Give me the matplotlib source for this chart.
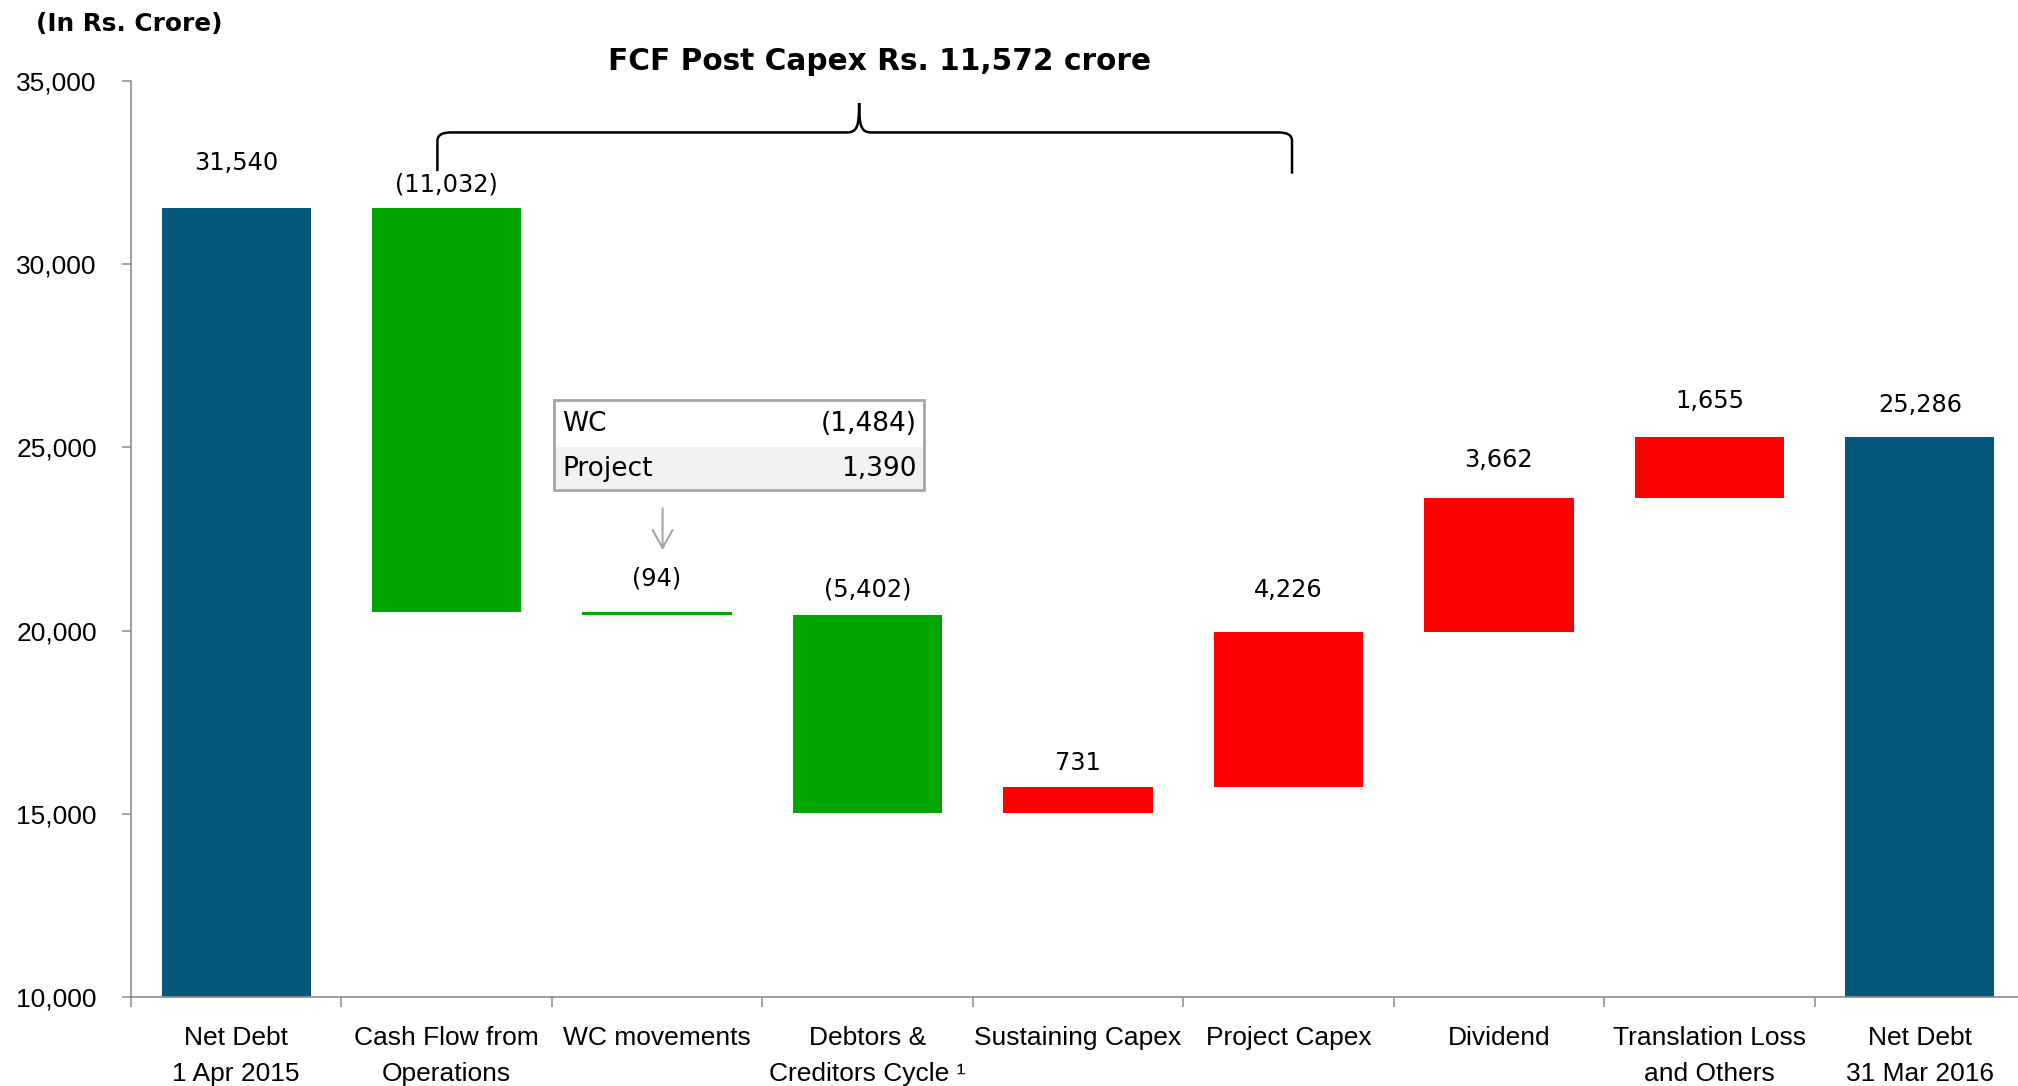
import numpy as np
import matplotlib
matplotlib.use("Agg")
import matplotlib.pyplot as plt
from matplotlib.path import Path
from matplotlib.patches import PathPatch, Rectangle

# data (Rs. crore)
categories = ["Net Debt\n1 Apr 2015", "Cash Flow from\nOperations", "WC movements",
              "Debtors &\nCreditors Cycle \u00b9", "Sustaining Capex", "Project Capex",
              "Dividend", "Translation Loss\nand Others", "Net Debt\n31 Mar 2016"]
opening = 31540
changes = [-11032, -94, -5402, 731, 4226, 3662, 1655]
closing = 25286
value_labels = ["31,540", "(11,032)", "(94)", "(5,402)", "731", "4,226",
                "3,662", "1,655", "25,286"]
wc_names = ["WC", "Project"]
wc_values = ["(1,484)", "1,390"]
fcf_text = "FCF Post Capex Rs. 11,572 crore"
unit_text = "(In Rs. Crore)"

# style
teal = "#05587A"
green = "#02A602"
red = "#FE0000"
axis_grey = "#8C8C8C"
label_offsets = [32, 17, 24, 19, 17, 30, 27, 26, 23]   # points above bar top

W, H = 2018, 1086
fig = plt.figure(figsize=(W / 100, H / 100), dpi=100)
ax = fig.add_axes([131 / W, 1 - 997 / H, (2025 - 131) / W, (997 - 81) / H])

# waterfall geometry
bottoms, heights, colors, tops = [0], [opening], [teal], [opening]
level = opening
for c in changes:
    bottoms.append(min(level, level + c))
    heights.append(abs(c))
    colors.append(green if c < 0 else red)
    tops.append(max(level, level + c))
    level += c
bottoms.append(0)
heights.append(closing)
colors.append(teal)
tops.append(closing)

x = np.arange(len(categories))
ax.bar(x, heights, bottom=bottoms, width=0.71, color=colors, zorder=2)

for i, (t, lab, off) in enumerate(zip(tops, value_labels, label_offsets)):
    ax.annotate(lab, (i, t), xytext=(0, off), textcoords="offset points",
                ha="center", va="center", fontsize=17.3, family="DejaVu Sans")

ax.set_xlim(-0.5, len(categories) - 0.5)
ax.set_ylim(10000, 35000)
ax.set_yticks(np.arange(10000, 35001, 5000))
ax.set_yticklabels([f"{v:,.0f}" for v in np.arange(10000, 35001, 5000)],
                   family="Liberation Sans", fontsize=19)
ax.set_xticks(np.arange(-0.5, len(categories), 1))
ax.set_xticklabels([])
ax.set_xticks(x, minor=True)
ax.set_xticklabels(categories, minor=True, family="Liberation Sans", fontsize=19,
                   linespacing=1.63)
ax.tick_params(axis="x", which="major", length=7, width=1.1, color=axis_grey)
ax.tick_params(axis="x", which="minor", length=0, pad=21)
ax.tick_params(axis="y", length=6.5, width=1.1, color=axis_grey, pad=18)
for s in ["top", "right"]:
    ax.spines[s].set_visible(False)
for s in ["left", "bottom"]:
    ax.spines[s].set_color(axis_grey)
    ax.spines[s].set_linewidth(1.2)

# small table above the WC bar
x0, x1 = 1.512, 3.268
y0, ym, y1 = 23830, 25010, 26290
ax.add_patch(Rectangle((x0, ym), x1 - x0, y1 - ym, facecolor="white", edgecolor="none", zorder=3))
ax.add_patch(Rectangle((x0, y0), x1 - x0, ym - y0, facecolor="#F2F2F2", edgecolor="none", zorder=3))
ax.add_patch(Rectangle((x0, y0), x1 - x0, y1 - y0, facecolor="none", edgecolor="#A6A6A6",
                       lw=2, zorder=4))
for name, val, yc in zip(wc_names, wc_values, [(ym + y1) / 2, (y0 + ym) / 2]):
    ax.text(1.551, yc, name, ha="left", va="center", fontsize=19, zorder=5)
    ax.text(3.234, yc, val, ha="right", va="center", fontsize=19, zorder=5)
ax.annotate("", xy=(2.026, 22120), xytext=(2.026, 23410),
            arrowprops=dict(arrowstyle="->,head_length=0.65,head_width=0.36",
                            mutation_scale=20, color="#A6A6A6", lw=1.5))

# curly brace over FCF items
xl, xm, xr = 0.956, 2.96, 5.017
yh, yt = 33596, 34400
verts = [(xl, 32540), (xl, 33350),
         (xl, 33530), (xl + 0.02, yh), (xl + 0.07, yh),
         (xm - 0.06, yh),
         (xm - 0.01, yh), (xm, yh + 150), (xm, yt),
         (xm, yh + 150), (xm + 0.01, yh), (xm + 0.06, yh),
         (xr - 0.07, yh),
         (xr - 0.02, yh), (xr, 33530), (xr, 33350),
         (xr, 32470)]
codes = [Path.MOVETO, Path.LINETO,
         Path.CURVE4, Path.CURVE4, Path.CURVE4,
         Path.LINETO,
         Path.CURVE4, Path.CURVE4, Path.CURVE4,
         Path.CURVE4, Path.CURVE4, Path.CURVE4,
         Path.LINETO,
         Path.CURVE4, Path.CURVE4, Path.CURVE4,
         Path.LINETO]
ax.add_patch(PathPatch(Path(verts, codes), facecolor="none", edgecolor="black",
                       lw=1.8, clip_on=False, zorder=5))

fig.text(880 / W, 1 - 62 / H, fcf_text, ha="center", va="center",
         fontsize=21.3, fontweight="bold", family="DejaVu Sans")
fig.text(36 / W, 1 - 24 / H, unit_text, ha="left", va="center",
         fontsize=17.8, fontweight="bold", family="DejaVu Sans")

fig.savefig("out.png", dpi=100)
